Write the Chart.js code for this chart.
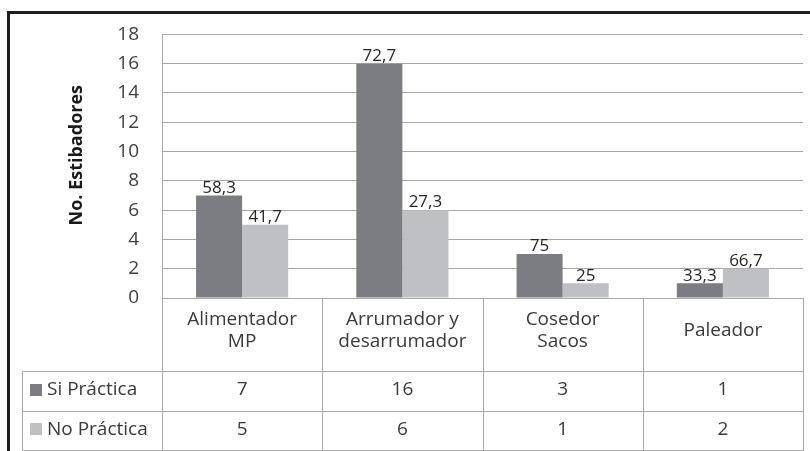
<!DOCTYPE html>
<html lang="es">
<head>
<meta charset="utf-8">
<title>No. Estibadores</title>
<script src="https://cdn.jsdelivr.net/npm/chart.js@4.4.1/dist/chart.umd.min.js"></script>
<style>
  html, body { margin: 0; padding: 0; background: #fff; }
  #wrap { position: relative; width: 810px; height: 451px; }
</style>
</head>
<body>
<div id="wrap"><canvas id="chart" width="810" height="451"></canvas></div>
<script>
const categories = [['Alimentador', 'MP'], ['Arrumador y', 'desarrumador'], ['Cosedor', 'Sacos'], ['Paleador']];
const seriesNames = ['Si Práctica', 'No Práctica'];
const siPractica = [7, 16, 3, 1];
const noPractica = [5, 6, 1, 2];
const siPercent = ['58,3', '72,7', '75', '33,3'];
const noPercent = ['41,7', '27,3', '25', '66,7'];
const yTitle = 'No. Estibadores';
const yMin = 0;
const yMax = 18;
const yStep = 2;

const FONT = '"Open Sans", "Liberation Sans", sans-serif';
const SI_COLOR = '#7c7d82';
const NO_COLOR = '#bfc0c4';
const LINE_COLOR = '#a8a8a8';
const TEXT_COLOR = '#3a3a3a';

// percent labels on top of bars + data table + y title + outer frame
const tablePlugin = {
  id: 'dataTable',
  afterDatasetsDraw(chart) {
    const ctx = chart.ctx;
    ctx.save();
    ctx.font = `17px ${FONT}`;
    ctx.fillStyle = '#262626';
    ctx.textAlign = 'center';
    ctx.textBaseline = 'bottom';
    chart.data.datasets.forEach((ds, di) => {
      chart.getDatasetMeta(di).data.forEach((bar, i) => {
        ctx.fillText(ds.pctLabels[i], bar.x, bar.y + 1);
      });
    });
    ctx.restore();
  },
  afterDraw(chart) {
    const ctx = chart.ctx;
    const { left, right, top, bottom } = chart.chartArea;
    const xScale = chart.scales.x;
    const colW = (right - left) / categories.length;
    const catBottom = bottom + 73;
    const rowH = 39.5;
    const tableLeft = 22;
    const tableBottom = catBottom + rowH * 2;
    const px = (v) => Math.round(v) + 0.5;

    ctx.save();
    ctx.strokeStyle = LINE_COLOR;
    ctx.lineWidth = 1;
    ctx.beginPath();
    for (let i = 0; i <= categories.length; i++) {
      const x = px(left + i * colW);
      ctx.moveTo(x, bottom);
      ctx.lineTo(x, tableBottom);
    }
    ctx.moveTo(px(tableLeft), px(catBottom));
    ctx.lineTo(px(tableLeft), tableBottom);
    for (let r = 0; r <= 2; r++) {
      const y = px(catBottom + r * rowH);
      ctx.moveTo(px(tableLeft), y);
      ctx.lineTo(px(right), y);
    }
    ctx.stroke();

    ctx.fillStyle = TEXT_COLOR;
    ctx.textAlign = 'center';
    ctx.textBaseline = 'middle';
    ctx.font = `19px ${FONT}`;
    const catMid = (bottom + catBottom) / 2 - 4;
    categories.forEach((lines, i) => {
      const cx = xScale.getPixelForValue(i);
      const start = catMid - (lines.length - 1) * 11;
      lines.forEach((t, j) => ctx.fillText(t, cx, start + j * 22));
    });

    const rows = [siPractica, noPractica];
    const colors = [SI_COLOR, NO_COLOR];
    rows.forEach((vals, r) => {
      const cy = catBottom + rowH * r + rowH / 2 - 1;
      ctx.textAlign = 'center';
      ctx.font = `19px ${FONT}`;
      vals.forEach((v, i) => ctx.fillText(String(v), xScale.getPixelForValue(i), cy));
      ctx.fillStyle = colors[r];
      ctx.fillRect(30, Math.round(cy - 6), 12, 12);
      ctx.fillStyle = TEXT_COLOR;
      ctx.textAlign = 'left';
      ctx.font = `19px ${FONT}`;
      ctx.fillText(seriesNames[r], 47, cy);
    });

    // y axis title
    ctx.save();
    ctx.translate(77, (top + bottom) / 2 - 11);
    ctx.rotate(-Math.PI / 2);
    ctx.textAlign = 'center';
    ctx.textBaseline = 'middle';
    ctx.fillStyle = '#1a1a1a';
    ctx.font = `bold 18px ${FONT}`;
    ctx.fillText(yTitle, 0, 0);
    ctx.restore();

    // outer frame
    ctx.strokeStyle = '#1e1e1e';
    ctx.lineWidth = 3;
    ctx.beginPath();
    ctx.moveTo(8.5, 460);
    ctx.lineTo(8.5, 12.5);
    ctx.lineTo(820, 12.5);
    ctx.stroke();
    ctx.restore();
  }
};

new Chart(document.getElementById('chart'), {
  type: 'bar',
  data: {
    labels: categories,
    datasets: [
      {
        label: seriesNames[0],
        data: siPractica,
        pctLabels: siPercent,
        backgroundColor: SI_COLOR,
        categoryPercentage: 0.575,
        barPercentage: 1,
      },
      {
        label: seriesNames[1],
        data: noPractica,
        pctLabels: noPercent,
        backgroundColor: NO_COLOR,
        categoryPercentage: 0.575,
        barPercentage: 1,
      },
    ],
  },
  options: {
    responsive: false,
    animation: false,
    layout: { padding: { left: 0, top: 34, right: 7, bottom: 153 } },
    plugins: {
      legend: { display: false },
      tooltip: { enabled: false },
    },
    scales: {
      x: { display: false },
      y: {
        min: yMin,
        max: yMax,
        ticks: {
          stepSize: yStep,
          padding: 23,
          color: '#404040',
          font: { family: FONT, size: 19 },
        },
        grid: { color: LINE_COLOR, drawTicks: false, tickLength: 0 },
        border: { display: true, color: LINE_COLOR },
        afterFit(scale) {
          scale.width = 162;
        },
      },
    },
  },
  plugins: [tablePlugin],
});
</script>
</body>
</html>
